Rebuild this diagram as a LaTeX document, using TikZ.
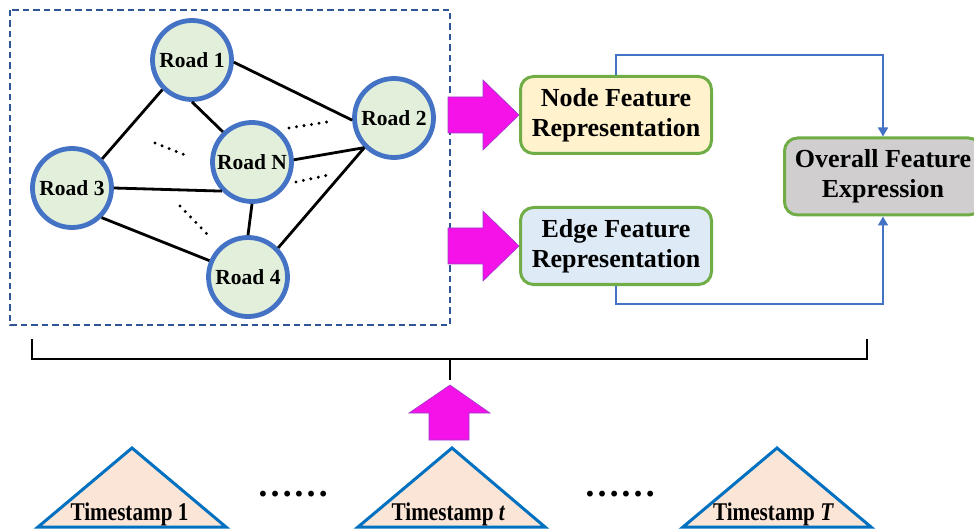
\documentclass[tikz,border=0pt]{standalone}
\usepackage{fontspec}
\setmainfont{Liberation Serif}
\usepackage{graphicx}
\usetikzlibrary{arrows.meta}

\definecolor{roadblue}{HTML}{4472C4}
\definecolor{roadfill}{HTML}{E2EFDA}
\definecolor{featgreen}{HTML}{70AD47}
\definecolor{nodefill}{HTML}{FFF2CC}
\definecolor{edgefill}{HTML}{DEEBF7}
\definecolor{allfill}{HTML}{D0CECE}
\definecolor{connblue}{HTML}{4472C4}
\definecolor{framblue}{HTML}{2F5597}
\definecolor{arrowpink}{HTML}{F412E8}
\definecolor{arrowedge}{HTML}{9A3CC8}
\definecolor{trifill}{HTML}{FBE5D6}
\definecolor{triblue}{HTML}{0070C0}

\begin{document}
\begin{tikzpicture}[x=1pt,y=-1pt,
  road/.style={circle, draw=roadblue, fill=roadfill, line width=4.8pt,
    minimum size=79pt, inner sep=0pt, font=\fontsize{21.5}{25}\selectfont\bfseries},
  feat/.style={rectangle, rounded corners=13pt, draw=featgreen, line width=3pt,
    minimum width=191pt, minimum height=77pt, align=center, inner sep=0pt,
    font=\fontsize{26}{30}\selectfont\bfseries},
  link/.style={line width=2.8pt, black},
  dotrow/.style={line width=3.3pt, line cap=round, dash pattern=on 0pt off 7.6pt},
  conn/.style={draw=connblue, line width=1.6pt, -{Triangle[length=9pt,width=10pt]}},
  fat/.style={fill=arrowpink, draw=arrowedge, line width=0.6pt, line join=miter},
  tri/.style={fill=trifill, draw=triblue, line width=3pt, line join=miter},
  stamp/.style={anchor=base, inner sep=0pt, font=\fontsize{25.5}{30}\selectfont\bfseries},
  ellip/.style={anchor=base, inner sep=0pt, font=\fontsize{36}{40}\selectfont\bfseries},
  frame/.style={draw=framblue, line width=1.6pt, dash pattern=on 6.5pt off 4pt},
  brace/.style={line width=2.8pt, black}
]
\useasboundingbox (0,0) rectangle (974,529);

% graph of roads inside a dashed frame
\draw[frame] (10,10) rectangle (450,325);

\node[road] (r1) at (192,60)  {Road 1};
\node[road] (r2) at (394,118) {Road 2};
\node[road] (rN) at (252,162) {Road N};
\node[road] (r3) at (72,188)  {Road 3};
\node[road] (r4) at (248,277) {Road 4};

\draw[link] (r1.357) -- (r2.183);
\draw[link] (r1.225) -- (r3.44);
\draw[link] (r1.270) -- (rN.134);
\draw[link] (rN.3)   -- (r2.225);
\draw[link] (r3.0)   -- (rN.224);
\draw[link] (r3.315) -- (r4.157);
\draw[link] (rN.270) -- (r4.90);
\draw[link] (r2.225) -- (r4.44);

% dotted hints of further roads
\draw[dotrow] (289,128) -- (327,122);
\draw[dotrow] (155,143) -- (190,157);
\draw[dotrow] (296,182) -- (333,174);
\draw[dotrow] (180,206) -- (207,234);

% feature boxes
\node[feat, fill=nodefill] (nf) at (616,115) {Node Feature\\Representation};
\node[feat, fill=edgefill] (ef) at (616,246) {Edge Feature\\Representation};
\node[feat, fill=allfill, minimum width=197pt] (ov) at (883,176.5) {Overall Feature\\Expression};

% block arrows into the feature boxes
\draw[fat] (448,97) -- (483,97) -- (483,80) -- (nf.west) -- (483,150) -- (483,133) -- (448,133) -- cycle;
\draw[fat] (448,228) -- (483,228) -- (483,211) -- (ef.west) -- (483,281) -- (483,264) -- (448,264) -- cycle;

% connectors to the overall expression
\coordinate (nturn) at (883,55);
\coordinate (eturn) at (883,304);
\draw[conn] (nf.north) |- (nturn) -- (ov.north);
\draw[conn] (ef.south) |- (eturn) -- (ov.south);

% bracket over the time steps
\coordinate (bl) at (32,339);
\coordinate (br) at (867,339);
\coordinate (bm) at (450,359);
\coordinate (bs) at (450,380);
\draw[brace] (bl) -- (32,359) -- (867,359) -- (br);
\draw[brace] (bm) -- (bs);

% upward block arrow
\draw[fat] (429,440) -- (429,413) -- (409,413) -- (450,385) -- (490,413) -- (469,413) -- (469,440) -- cycle;

% time steps
\draw[tri] (132,448) -- (38,527) -- (226,527) -- cycle;
\draw[tri] (452,448) -- (358,527) -- (545,527) -- cycle;
\draw[tri] (777,448) -- (683,527) -- (871,527) -- cycle;

\node[stamp] (ts1) at (129.5,520) {\scalebox{0.83}[1]{Timestamp 1}};
\node[stamp] (tst) at (448.5,520) {\scalebox{0.83}[1]{Timestamp \textit{t}}};
\node[stamp] (tsT) at (773.5,520) {\scalebox{0.83}[1]{Timestamp \textit{T}}};

\node[ellip] (d1) at (293,496.5) {……};
\node[ellip] (d2) at (620,496.5) {……};
\end{tikzpicture}
\end{document}
